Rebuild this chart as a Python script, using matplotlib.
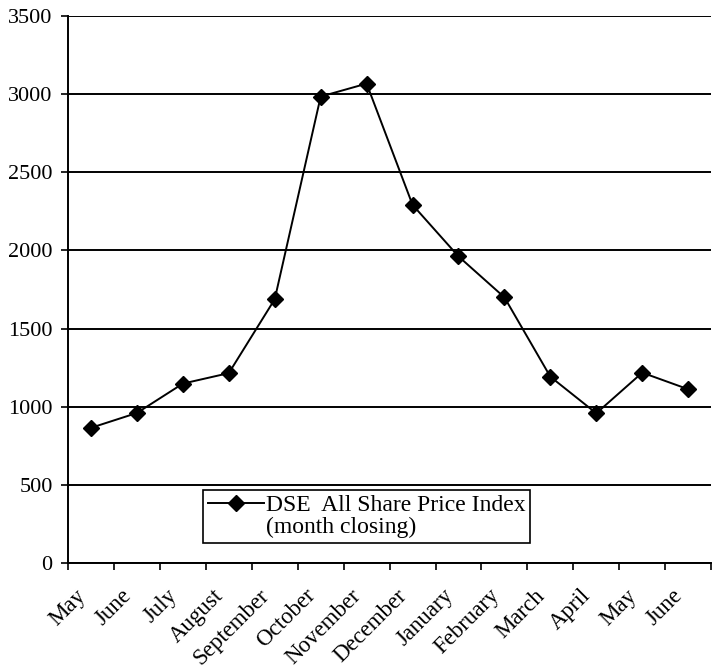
import matplotlib
matplotlib.use("Agg")
import matplotlib.pyplot as plt
import matplotlib.transforms as mtransforms
from matplotlib.lines import Line2D
import numpy as np

# month-closing values of the DSE All Share Price Index
months = ['May', 'June', 'July', 'August', 'September', 'October', 'November',
          'December', 'January', 'February', 'March', 'April', 'May', 'June']
index_close = [865, 960, 1148, 1215, 1688, 2985, 3068, 2292, 1962, 1700,
               1192, 958, 1218, 1112]
label_lines = ['DSE  All Share Price Index', '(month closing)']
y_ticks = [0, 500, 1000, 1500, 2000, 2500, 3000, 3500]

plt.rcParams['font.family'] = ['Liberation Serif', 'DejaVu Serif']

fig = plt.figure(figsize=(7.13, 6.71), dpi=100)
ax = fig.add_axes([0.0954, 0.161, 0.902, 0.815])

x = np.arange(len(months))
line, = ax.plot(x, index_close, color='black', linewidth=1.4, marker='D',
                markersize=8, markerfacecolor='black', markeredgecolor='black',
                zorder=3)

# category axis: ticks sit between categories, labels at centres
ax.set_xlim(-0.5, len(months) - 0.5)
ax.set_xticks(np.arange(-0.5, len(months), 1.0))
ax.set_xticklabels([])
ax.set_xticks(x, minor=True)
ax.set_xticklabels(months, minor=True, rotation=45, ha='right',
                   rotation_mode='anchor', fontsize=16.5)
ax.tick_params(axis='x', which='minor', length=0, pad=0)
ax.tick_params(axis='x', which='major', direction='out', length=5, width=1.2)
shift = mtransforms.ScaledTranslation(-16 / 100, -22 / 100, fig.dpi_scale_trans)
for lbl in ax.get_xticklabels(minor=True):
    lbl.set_transform(lbl.get_transform() + shift)

ax.set_ylim(0, 3500)
ax.set_yticks(y_ticks)
ax.tick_params(axis='y', direction='out', length=5, width=1.2, labelsize=16, pad=6)
ax.yaxis.grid(True, color='black', linewidth=1.4)
ax.set_axisbelow(True)

for side in ['top', 'right']:
    ax.spines[side].set_visible(False)
ax.spines['left'].set_linewidth(1.4)
ax.spines['bottom'].set_linewidth(1.4)

# second legend row carries the wrapped part of the label, with no handle
blank = Line2D([], [], linestyle='none', marker='none')
leg = ax.legend([line, blank], label_lines, loc='lower left',
                bbox_to_anchor=(0.21, 0.037), fontsize=17, frameon=True,
                fancybox=False, framealpha=1, edgecolor='black',
                handlelength=2.4, handletextpad=0.05, borderpad=0.2,
                labelspacing=0.0, borderaxespad=0)
leg.get_frame().set_linewidth(1.2)

fig.savefig('out.png', dpi=100)
